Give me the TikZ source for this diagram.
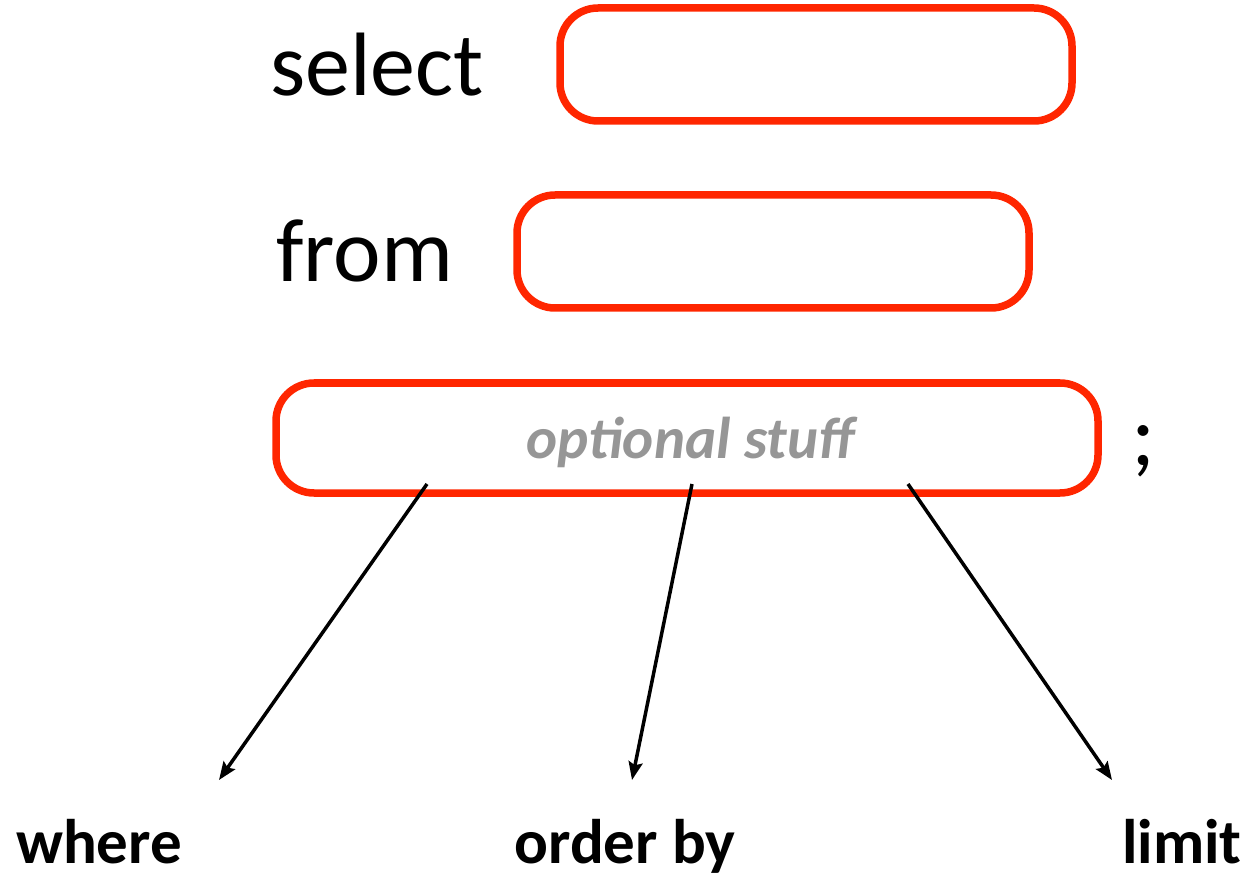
\documentclass[tikz,border=0pt]{standalone}
\usepackage{fontspec}
\setmainfont{Carlito}
\usetikzlibrary{arrows.meta}
\definecolor{boxred}{RGB}{255,38,0}
\definecolor{optgray}{RGB}{150,150,150}
\tikzset{
  redbox/.style={draw=boxred, line width=7.5pt, rounded corners=38pt, inner sep=0pt},
  kw/.style={anchor=base west, inner sep=0pt, font=\fontsize{90}{100}\selectfont},
  clause/.style={anchor=base, inner sep=0pt, font=\fontsize{63}{72}\selectfont\bfseries},
  arr/.style={line width=3.5pt, -{Stealth[length=18pt,width=14pt,inset=3pt]}}
}
\begin{document}
\begin{tikzpicture}[x=1pt,y=-1pt]
\useasboundingbox (0,0) rectangle (1258,882);
\node[redbox, minimum width=512pt, minimum height=113pt] (selbox) at (816,64.5) {};
\node[redbox, minimum width=512pt, minimum height=113pt] (frombox) at (773,251.5) {};
\node[redbox, minimum width=822pt, minimum height=110pt] (optbox) at (687,438) {};
\node[kw] (sel) at (270,96) {select};
\node[kw] (from) at (276,282) {from};
\node[anchor=base, inner sep=0pt, text=optgray, font=\fontsize{59}{70}\selectfont\bfseries\itshape] (opt) at (690,458) {optional stuff};
\node[kw] (semi) at (1131,465) {;};
\node[clause] (where) at (99,863) {where};
\node[clause] (order) at (625,863) {order by};
\node[clause] (limit) at (1182,863) {limit};
\coordinate (s1) at (427,484);
\coordinate (s2) at (692,484);
\coordinate (s3) at (908,484);
\coordinate (e1) at (219,780);
\coordinate (e2) at (632,780);
\coordinate (e3) at (1112,780);
\draw[arr] (s1) -- (e1);
\draw[arr] (s2) -- (e2);
\draw[arr] (s3) -- (e3);
\end{tikzpicture}
\end{document}
